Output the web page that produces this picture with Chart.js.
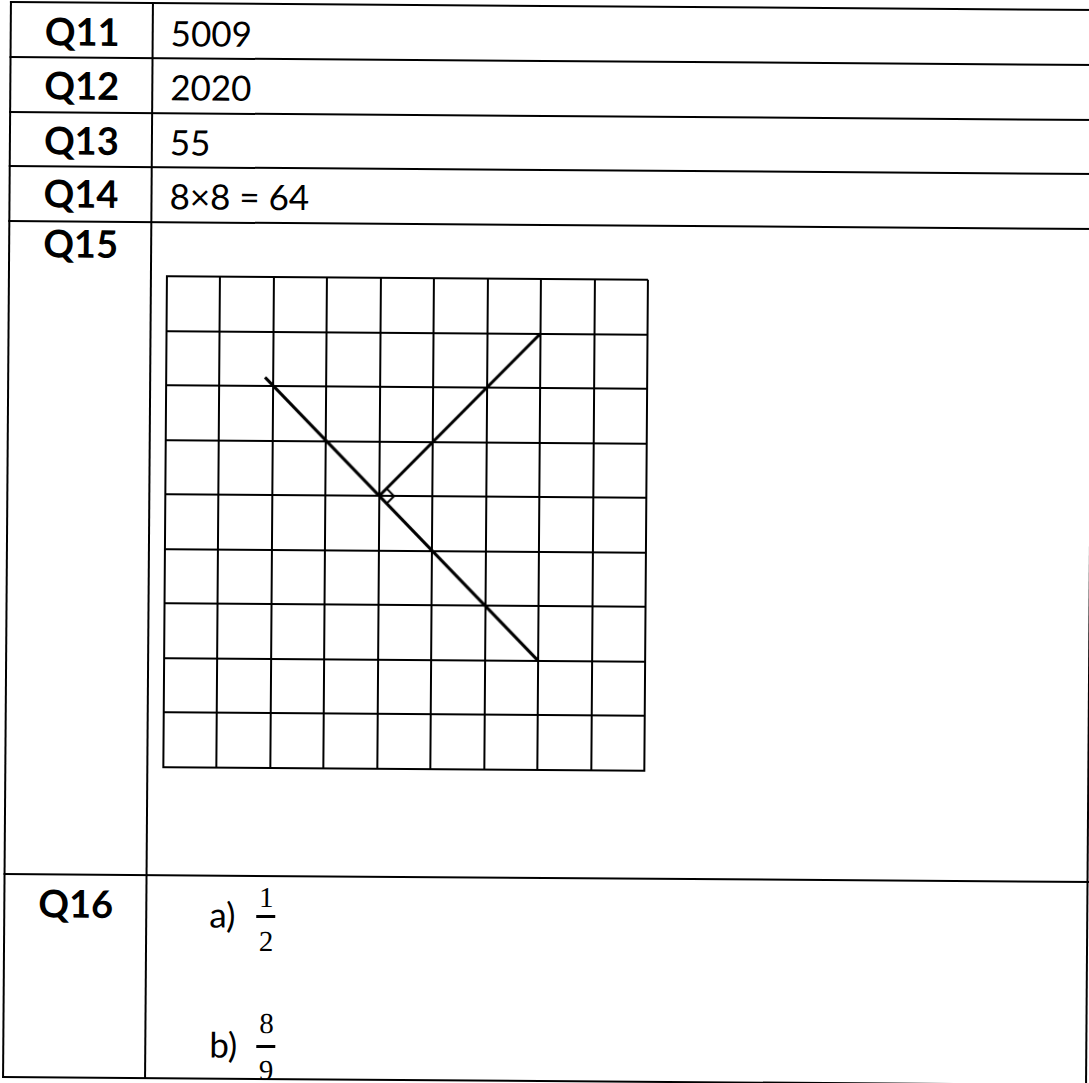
<!DOCTYPE html>
<html>
<head>
<meta charset="utf-8">
<script src="https://cdn.jsdelivr.net/npm/chart.js@4.4.1/dist/chart.umd.min.js"></script>
<style>
body { margin: 0; background: #fff; overflow: hidden; }
#sheet { position: absolute; left: 0; top: 0; width: 1089px; height: 1083px; transform: rotate(0.42deg); transform-origin: 544px 541px; }
.h { position: absolute; left: 6px; width: 1090px; height: 2px; background: #000; }
.v { position: absolute; top: 5px; width: 2px; height: 1077px; background: #000; }
.q { position: absolute; left: 8px; width: 141px; text-align: center; font: bold 38px Lato; line-height: 38px; color: #000; }
.a { position: absolute; left: 167px; font: 35px Lato; line-height: 35px; color: #000; white-space: nowrap; }
.f { position: absolute; width: 20px; text-align: center; font: 29px "Liberation Serif"; line-height: 29px; color: #000; }
.bar { position: absolute; width: 19px; height: 3px; background: #000; }
#gridBox { position: absolute; left: 162px; top: 276px; width: 487px; height: 497px; }
#cover { position: absolute; left: 0; top: 1082px; width: 1100px; height: 40px; background: #fff; }
</style>
</head>
<body>
<div id="sheet">
  <div class="q" style="top:15px">Q11</div>
  <div class="a" style="top:18px">5009</div>
  <div class="q" style="top:69px">Q12</div>
  <div class="a" style="top:72px">2020</div>
  <div class="q" style="top:124px">Q13</div>
  <div class="a" style="top:127px">55</div>
  <div class="q" style="top:177px">Q14</div>
  <div class="a" style="top:181px">8×8 = 64</div>
  <div class="q" style="top:227px">Q15</div>
  <div class="q" style="top:887px">Q16</div>

  <div class="a" style="left:212px; top:899px">a)</div>
  <div class="f" style="left:259px; top:885px">1</div>
  <div class="bar" style="left:259px; top:917px"></div>
  <div class="f" style="left:259px; top:929px">2</div>

  <div class="a" style="left:213px; top:1029px">b)</div>
  <div class="f" style="left:260px; top:1011px">8</div>
  <div class="bar" style="left:260px; top:1047px"></div>
  <div class="f" style="left:260px; top:1058px">9</div>

  <div id="gridBox"><canvas id="q15-grid"></canvas></div>

  <div id="cover"></div>
  <div class="h" style="top:5px"></div>
  <div class="h" style="top:60px"></div>
  <div class="h" style="top:115px"></div>
  <div class="h" style="top:169px"></div>
  <div class="h" style="top:224px"></div>
  <div class="h" style="top:877px"></div>
  <div class="h" style="top:1080px"></div>
  <div class="v" style="left:6px"></div>
  <div class="v" style="left:148px"></div>
  <div class="v" style="left:1089px"></div>
</div>
<script>
// Q15 square grid, 9 x 9 cells
const gridMin = 0;
const gridMax = 9;

// long line through the grid
const diagonalX = [1.85, 7.0];
const diagonalY = [7.16, 2.0];

// perpendicular line
const perpendicularX = [4.0, 7.0];
const perpendicularY = [5.0, 8.0];

// right angle mark
const markerX = [4.14, 4.28, 4.14];
const markerY = [5.14, 5.0, 4.86];

function toPoints(xs, ys) {
    return xs.map((x, i) => ({ x: x, y: ys[i] }));
}

function lineSet(xs, ys, width) {
    return {
        data: toPoints(xs, ys),
        showLine: true,
        borderColor: '#000',
        borderWidth: width,
        pointRadius: 0,
        fill: false,
    };
}

const axis = {
    type: 'linear',
    min: gridMin,
    max: gridMax,
    ticks: { display: false, stepSize: 1 },
    grid: { color: '#000', lineWidth: 2, drawTicks: false },
    border: { color: '#000', width: 2 },
};

const GridCanvas = document.getElementById('q15-grid');
const GridChart = new Chart(GridCanvas, {
    type: 'scatter',
    data: {
        datasets: [
            lineSet(diagonalX, diagonalY, 3),
            lineSet(perpendicularX, perpendicularY, 3),
            lineSet(markerX, markerY, 2),
        ]
    },
    options: {
        responsive: true,
        maintainAspectRatio: false,
        animation: false,
        events: [],
        layout: { padding: 3 },
        scales: {
            x: axis,
            y: axis,
        },
        plugins: {
            legend: { display: false },
            tooltip: { enabled: false },
        }
    }
});
</script>
</body>
</html>
